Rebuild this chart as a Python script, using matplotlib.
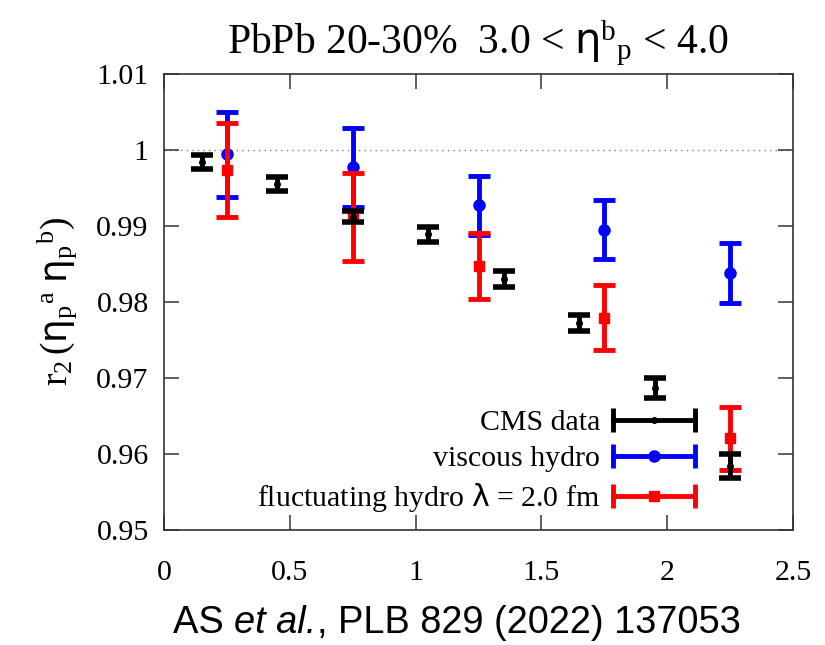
import numpy as np
import matplotlib.pyplot as plt
from matplotlib.lines import Line2D
from matplotlib.legend_handler import HandlerBase
from matplotlib.ticker import FormatStrFormatter, MultipleLocator

# CMS data
cms_x = [0.15, 0.45, 0.75, 1.05, 1.35, 1.65, 1.95, 2.25]
cms_y = [0.9984, 0.9955, 0.9912, 0.9889, 0.9830, 0.9772, 0.9686, 0.9584]
cms_err = [0.0009, 0.0009, 0.0007, 0.0010, 0.0011, 0.0011, 0.0013, 0.0016]

# hydro calculations
hydro_x = [0.25, 0.75, 1.25, 1.75, 2.25]
visc_y = [0.9994, 0.9977, 0.9927, 0.9895, 0.9838]
visc_err = [0.0056, 0.0052, 0.0039, 0.0039, 0.0039]
fluct_y = [0.9974, 0.9912, 0.9847, 0.9779, 0.9620]
fluct_err = [0.0062, 0.0058, 0.0043, 0.0043, 0.0042]

plt.rcParams['font.family'] = 'Liberation Serif'
plt.rcParams['mathtext.fontset'] = 'custom'
plt.rcParams['mathtext.rm'] = 'Liberation Serif'
plt.rcParams['mathtext.it'] = 'Liberation Serif:italic'
plt.rcParams['mathtext.sf'] = 'DejaVu Sans'
plt.rcParams['mathtext.default'] = 'rm'


class HErrHandler(HandlerBase):
    # gnuplot style key: horizontal bar with end caps and a marker in the middle
    def create_artists(self, legend, orig_handle, xdescent, ydescent,
                       width, height, fontsize, trans):
        c = orig_handle.get_color()
        yc = height / 2 - ydescent
        x0, x1 = -xdescent, width - xdescent
        bar = Line2D([x0, x1], [yc, yc], color=c, lw=3.5)
        caps = Line2D([x0, x1], [yc, yc], ls='none', marker='|', ms=17, mew=3.5, color=c)
        dot = Line2D([(x0 + x1) / 2], [yc], ls='none', marker=orig_handle.get_marker(),
                     ms=orig_handle.get_markersize(), color=c)
        for a in (bar, caps, dot):
            a.set_transform(trans)
        return [bar, caps, dot]


fig = plt.figure(figsize=(8.25, 6.45), dpi=100)
ax = fig.add_axes([0.1988, 0.179, 0.7624, 0.7063])

ax.axhline(1.0, color='gray', ls=(0, (1, 3)), lw=1, zorder=1)

ax.errorbar(hydro_x, visc_y, yerr=visc_err, fmt='o', color='blue', ms=8,
            elinewidth=3.5, capsize=8, capthick=3.5, zorder=3)
ax.errorbar(hydro_x, fluct_y, yerr=fluct_err, fmt='s', color='red', ms=7,
            elinewidth=3.5, capsize=8, capthick=3.5, zorder=4)
ax.errorbar(cms_x, cms_y, yerr=cms_err, fmt='o', color='black', ms=4,
            elinewidth=3.5, capsize=8, capthick=4, zorder=5)

ax.set_xlim(0, 2.5)
ax.set_ylim(0.95, 1.01)
ax.xaxis.set_major_locator(MultipleLocator(0.5))
ax.yaxis.set_major_locator(MultipleLocator(0.01))
ax.xaxis.set_major_formatter(FormatStrFormatter('%g'))
ax.yaxis.set_major_formatter(FormatStrFormatter('%g'))
ax.tick_params(direction='in', top=True, right=True, length=10.8, width=1.1,
               labelsize=21.5, color='#333333')
ax.tick_params(axis='x', pad=22)
ax.tick_params(axis='y', pad=11)
for s in ax.spines.values():
    s.set_linewidth(1.2)
    s.set_color('#333333')

ax.set_title(r'PbPb 20-30%  3.0 < $\mathsf{η}^{b}{}_{p}$ < 4.0', fontsize=30, pad=15)
ax.set_ylabel(r'$r_2\,(\mathsf{η}_{p}{}^{a}\ \mathsf{η}_{p}{}^{b})$', fontsize=27, labelpad=12)

handles = [Line2D([], [], color='black', marker='o', ms=4),
           Line2D([], [], color='blue', marker='o', ms=8),
           Line2D([], [], color='red', marker='s', ms=7)]
labels = ['CMS data', 'viscous hydro', r'fluctuating hydro $\mathsf{λ}$ = 2.0 fm']
ax.legend(handles, labels, handler_map={Line2D: HErrHandler()}, loc='lower right',
          bbox_to_anchor=(0.844, 0.034), frameon=False, markerfirst=False,
          fontsize=21.5, handlelength=2.74, handletextpad=0.43, labelspacing=0.3,
          borderpad=0, borderaxespad=0)

# citation line under the plot
t1 = fig.text(0.2097, 0.0186, 'AS ', family='Liberation Sans', fontsize=27.4, va='baseline')
t2 = ax.annotate('et al.', xy=(1, 0), xycoords=t1, va='bottom', family='Liberation Sans',
                 style='italic', fontsize=27.4, annotation_clip=False)
t3 = ax.annotate(', PLB 829 (2022) 137053', xy=(1, 0), xycoords=t2, va='bottom',
                 family='Liberation Sans', fontsize=27.4, annotation_clip=False)

fig.savefig('out.png', dpi=100)
